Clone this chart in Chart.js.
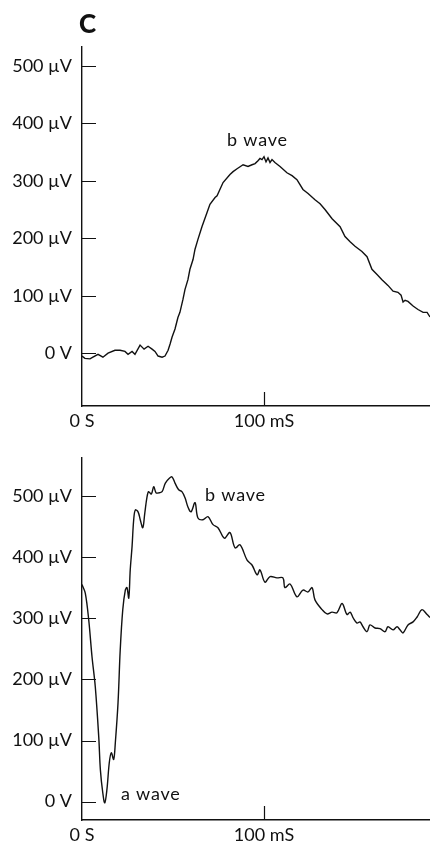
<!DOCTYPE html>
<html>
<head>
<meta charset="utf-8">
<script src="https://cdn.jsdelivr.net/npm/chart.js@4/dist/chart.umd.min.js"></script>
<style>
  html, body { margin: 0; padding: 0; background: #fff; }
  body { width: 430px; height: 843px; position: relative; overflow: hidden; }
  .wrap { position: absolute; left: 0; width: 430px; }
  #wTop { top: 0; height: 430px; }
  #wBot { top: 430px; height: 413px; }
</style>
</head>
<body>
<div class="wrap" id="wTop"><canvas id="cTop"></canvas></div>
<div class="wrap" id="wBot"><canvas id="cBot"></canvas></div>
<script>
// ---- Data (time in ms, amplitude in µV) ----
const topTimeMs = [0, 1.6, 4.4, 6.0, 8.8, 11.5, 14.3, 18.1, 20.9, 23.6, 25.3, 27.5, 29.1, 31.9, 34.1, 36.3, 38.5, 40.1, 41.8, 44.0, 45.6, 47.3, 48.4, 49.5, 51.1, 52.7, 53.8, 55.5, 56.6, 58.2, 59.3, 61.0, 62.1, 63.7, 65.9, 68.7, 70.3, 73.1, 74.2, 77.5, 81.3, 83.0, 85.2, 88.5, 91.2, 93.4, 95.1, 96.7, 97.8, 98.9, 100.0, 101.1, 102.2, 103.3, 104.4, 106.0, 108.8, 112.6, 115.4, 118.1, 121.4, 124.2, 128.0, 130.8, 133.5, 137.4, 141.8, 144.5, 147.3, 150.0, 153.8, 156.6, 159.3, 162.1, 164.8, 168.1, 170.9, 173.6, 175.3, 176.4, 177.5, 179.1, 181.9, 184.6, 187.4, 189.6, 191.2];
const topVoltage = [-5, -9, -10, -7, -2, -7, 0, 5, 5, 3, -2, 3, -2, 14, 7, 12, 7, 3, -5, -7, -5, 5, 16, 28, 42, 62, 71, 94, 111, 128, 146, 163, 181, 198, 220, 245, 259, 271, 274, 297, 311, 316, 321, 328, 325, 328, 330, 335, 339, 337, 342, 333, 340, 332, 337, 332, 325, 314, 309, 302, 285, 278, 267, 260, 250, 234, 220, 203, 194, 186, 177, 168, 146, 137, 128, 118, 108, 106, 101, 89, 92, 90, 82, 76, 71, 71, 63];

const bottomTimeMs = [0, 1.8, 3.7, 5.5, 7.3, 9.2, 10.1, 11.4, 12.5, 13.7, 15.0, 16.1, 17.4, 18.3, 19.8, 21.0, 22.4, 23.8, 24.7, 25.7, 26.5, 27.5, 28.4, 29.3, 30.8, 32.0, 33.4, 34.5, 35.7, 36.6, 38.1, 39.4, 40.7, 42.1, 44.0, 45.8, 48.0, 49.5, 51.1, 53.1, 54.9, 56.6, 58.2, 59.9, 62.1, 63.7, 66.5, 69.2, 72.0, 74.7, 77.5, 78.6, 81.3, 84.1, 86.8, 90.7, 93.4, 96.2, 97.8, 100.5, 103.3, 107.1, 110.4, 111.5, 114.3, 118.1, 121.4, 124.2, 126.4, 128.0, 131.9, 134.6, 137.4, 140.1, 142.9, 145.6, 147.3, 148.9, 151.1, 152.7, 154.4, 156.6, 158.2, 161.0, 163.7, 166.5, 168.1, 170.9, 173.1, 174.7, 176.4, 179.1, 181.9, 184.1, 186.8, 189.6, 191.2];
const bottomVoltage = [355, 341, 297, 237, 188, 106, 52, 15, -2, 20, 64, 80, 69, 96, 162, 248, 314, 346, 350, 333, 379, 417, 461, 477, 474, 461, 448, 472, 498, 507, 503, 515, 505, 505, 507, 521, 529, 531, 521, 510, 507, 497, 482, 474, 489, 464, 461, 466, 453, 448, 433, 431, 440, 415, 420, 395, 387, 371, 379, 359, 368, 366, 366, 350, 356, 335, 346, 343, 350, 330, 314, 307, 310, 309, 324, 306, 310, 301, 292, 294, 286, 278, 289, 284, 283, 278, 286, 281, 286, 281, 276, 289, 294, 302, 314, 306, 301];

const yTickValues = [0, 100, 200, 300, 400, 500];
const xTickValues = [0, 100];

const topNotes = [{ text: 'b wave', x: 79.7, y: 361 }];
const bottomNotes = [{ text: 'b wave', x: 67.6, y: 492 }, { text: 'a wave', x: 21.4, y: 3 }];

const FONT = 'Lato, "Open Sans", sans-serif';
const INK = '#111';

const innerTicks = {
  id: 'innerTicks',
  afterDraw(chart) {
    const { ctx, chartArea, scales } = chart;
    ctx.save();
    ctx.strokeStyle = INK;
    ctx.lineWidth = 1.2;
    ctx.beginPath();
    yTickValues.forEach(v => {
      const py = Math.round(scales.y.getPixelForValue(v)) + 0.5;
      ctx.moveTo(chartArea.left, py);
      ctx.lineTo(chartArea.left + 14, py);
    });
    xTickValues.forEach(v => {
      if (v === 0) return;
      const px = Math.round(scales.x.getPixelForValue(v)) + 0.5;
      ctx.moveTo(px, chartArea.bottom);
      ctx.lineTo(px, chartArea.bottom - 14);
    });
    ctx.stroke();
    ctx.restore();
  }
};

const notesPlugin = {
  id: 'notes',
  afterDraw(chart, args, opts) {
    const { ctx, scales } = chart;
    ctx.save();
    ctx.fillStyle = INK;
    ctx.font = '18px ' + FONT;
    ctx.textAlign = 'left';
    ctx.textBaseline = 'alphabetic';
    if ('letterSpacing' in ctx) ctx.letterSpacing = '0.8px';
    (opts.items || []).forEach(n => {
      ctx.fillText(n.text, scales.x.getPixelForValue(n.x), scales.y.getPixelForValue(n.y));
    });
    if ('letterSpacing' in ctx) ctx.letterSpacing = '0px';
    if (opts.panel) {
      ctx.font = '900 26px ' + FONT;
      ctx.fillText(opts.panel, 79, 33);
    }
    ctx.restore();
  }
};

function makeChart(id, times, volts, yMin, yMax, padTop, xAxisH, tension, notes, panel) {
  return new Chart(document.getElementById(id), {
    type: 'line',
    data: {
      datasets: [{
        data: times.map((t, i) => ({ x: t, y: volts[i] })),
        borderColor: INK,
        borderWidth: 1.4,
        pointRadius: 0,
        tension: tension,
        fill: false
      }]
    },
    options: {
      responsive: true,
      maintainAspectRatio: false,
      animation: false,
      layout: { padding: { top: padTop, left: 0, right: 0, bottom: 0 } },
      plugins: {
        legend: { display: false },
        tooltip: { enabled: false },
        notes: { items: notes, panel: panel }
      },
      scales: {
        x: {
          type: 'linear',
          min: 0,
          max: 191.2,
          afterBuildTicks: s => { s.ticks = xTickValues.map(v => ({ value: v })); },
          afterFit: s => { s.height = xAxisH; },
          grid: { display: false, drawTicks: false },
          border: { display: true, color: INK, width: 1.4 },
          ticks: {
            padding: 4,
            maxRotation: 0,
            color: INK,
            font: { family: FONT, size: 18 },
            callback: v => v === 0 ? '0 S' : v + ' mS'
          }
        },
        y: {
          type: 'linear',
          min: yMin,
          max: yMax,
          afterBuildTicks: s => { s.ticks = yTickValues.map(v => ({ value: v })); },
          afterFit: s => { s.width = 82; },
          grid: { display: false, drawTicks: false },
          border: { display: true, color: INK, width: 1.4 },
          ticks: {
            padding: 10,
            color: INK,
            font: { family: FONT, size: 18 },
            callback: v => v === 0 ? '0 V' : v + ' µV'
          }
        }
      }
    },
    plugins: [innerTicks, notesPlugin]
  });
}

makeChart('cTop', topTimeMs, topVoltage, -92, 533, 47, 24, 0, topNotes, 'C');
makeChart('cBot', bottomTimeMs, bottomVoltage, -30, 562, 28, 23, 0.35, bottomNotes, null);
</script>
</body>
</html>
